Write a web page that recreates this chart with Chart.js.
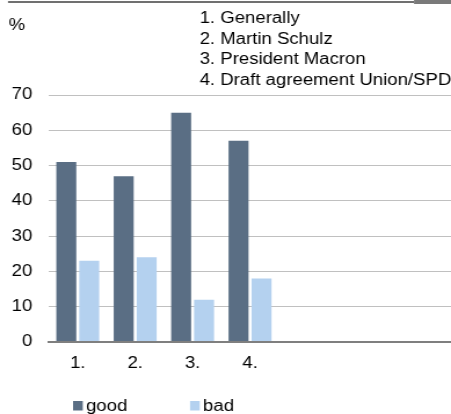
<!DOCTYPE html>
<html>
<head>
<meta charset="utf-8">
<script src="https://cdn.jsdelivr.net/npm/chart.js@4"></script>
<style>
  html, body { margin: 0; padding: 0; background: #fff; overflow: hidden; }
  #wrap { width: 389px; height: 414px; transform: scaleX(1.1594); transform-origin: 0 0; }
  canvas { display: block; }
</style>
</head>
<body>
<div id="wrap"><canvas id="c" width="389" height="414"></canvas></div>
<script>
const categories = ["1.", "2.", "3.", "4.", "", "", ""];
const goodValues = [51, 47, 65, 57, null, null, null];
const badValues = [23, 24, 12, 18, null, null, null];
const seriesNames = ["good", "bad"];
const unitLabel = "%";
const noteLines = ["1. Generally", "2. Martin Schulz", "3. President Macron", "4. Draft agreement Union/SPD"];
const yTicksMin = 0, yTicksMax = 70, yTicksStep = 10;

const FONT = '"Liberation Sans", Arial, sans-serif';

const decorPlugin = {
  id: 'decor',
  afterDraw(chart) {
    const ctx = chart.ctx;
    ctx.save();
    // top rule
    ctx.fillStyle = '#707070';
    ctx.fillRect(6.9, 1, 350.2, 2);
    ctx.fillStyle = '#7a7a7a';
    ctx.fillRect(357.1, 0, 31.9, 4);
    // unit and notes
    ctx.fillStyle = '#000';
    ctx.font = '16px ' + FONT;
    ctx.textBaseline = 'alphabetic';
    ctx.textAlign = 'left';
    ctx.fillText(unitLabel, 7.4, 29.8);
    const ys = [23, 43.6, 64.2, 84.6];
    noteLines.forEach((t, i) => ctx.fillText(t, 172.2, ys[i]));
    // legend
    const boxX = [63.0, 163.9];
    chart.data.datasets.forEach((ds, i) => {
      ctx.fillStyle = ds.backgroundColor;
      ctx.fillRect(boxX[i], 401, 8.4, 9.5);
      ctx.fillStyle = '#000';
      ctx.fillText(ds.label, boxX[i] + 11.2, 410.5);
    });
    ctx.restore();
  }
};

new Chart(document.getElementById('c'), {
  type: 'bar',
  data: {
    labels: categories,
    datasets: [
      { label: seriesNames[0], data: goodValues, backgroundColor: '#5a6e84', borderWidth: 0 },
      { label: seriesNames[1], data: badValues, backgroundColor: '#b4d1ef', borderWidth: 0 }
    ]
  },
  options: {
    responsive: false,
    animation: false,
    devicePixelRatio: 1,
    categoryPercentage: 0.8,
    barPercentage: 0.87,
    layout: { padding: { top: 95, left: 0, right: 0, bottom: 0 } },
    plugins: { legend: { display: false }, tooltip: { enabled: false }, title: { display: false } },
    scales: {
      x: {
        grid: { display: false, drawTicks: false },
        border: { display: true, color: '#7f7f7f', width: 2 },
        ticks: { color: '#000', font: { family: FONT, size: 16 }, padding: 11.5, maxRotation: 0, autoSkip: false },
        afterFit(scale) { scale.height = 72; }
      },
      y: {
        min: yTicksMin, max: yTicksMax,
        grid: {
          drawTicks: false,
          color: (c) => c.tick && c.tick.value === 0 ? '#7f7f7f' : '#c0c0c0',
          lineWidth: (c) => c.tick && c.tick.value === 0 ? 2 : 1
        },
        border: { display: false },
        ticks: { stepSize: yTicksStep, color: '#000', font: { family: FONT, size: 16 }, padding: 14.4 },
        afterFit(scale) { scale.width = 42.3; }
      }
    }
  },
  plugins: [decorPlugin]
});
</script>
</body>
</html>
